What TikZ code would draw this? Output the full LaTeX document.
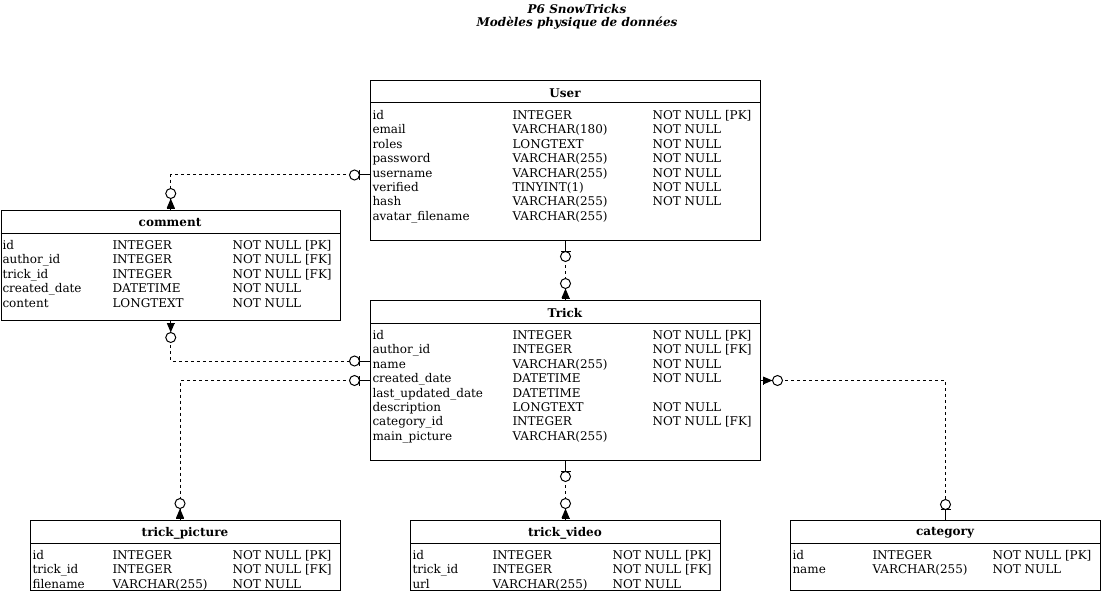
\documentclass[tikz,border=0pt]{standalone}
\usepackage{fontspec}
\setmainfont{DejaVu Serif}
\begin{document}
\begin{tikzpicture}[x=1pt,y=-1pt,line width=1pt,
  tbl/.style={draw,anchor=north west,inner sep=0pt,minimum width=#1},
  hdr/.style={font=\fontsize{12}{14.4}\selectfont\bfseries,anchor=center,inner sep=0pt},
  cell/.style={font=\fontsize{12}{14.4}\selectfont,anchor=base west,inner sep=0pt},
  ttl/.style={font=\fontsize{12}{14.4}\selectfont\bfseries\itshape,anchor=center,inner sep=0pt},
  rel/.style={dash pattern=on 3pt off 3pt},
  % end that reads "zero or one": bar next to a hollow circle
  oneend/.pic={
    \draw[solid] (0,0) -- (10.5,0);
    \draw[solid] (10.5,-5) -- (10.5,5);
    \draw[solid,fill=white] (15.5,0) circle (5);
  },
  % end with a filled arrowhead pointing away from the table, then a circle
  arrowend/.pic={
    \draw[solid] (0,0) -- (2,0);
    \draw[solid] (2,-4) -- (2,4);
    \fill (2,-4) -- (11.5,0) -- (2,4) -- cycle;
    \draw[solid,fill=white] (16.5,0) circle (5);
  },
]
\useasboundingbox (0,0) rectangle (1101,591);

% fields of a table: name, three column x positions, first baseline, rows
\newcommand\erfields[6]{%
  \foreach \fa/\fb/\fc [count=\i from 0] in {#6} {
    \node[cell] (#1-a\i) at (#2, #5+14.4*\i) {\fa};
    \node[cell] (#1-b\i) at (#3, #5+14.4*\i) {\fb};
    \node[cell] (#1-c\i) at (#4, #5+14.4*\i) {\fc};
  }%
}

% title
\node[ttl] (title1) at (577,9) {P6 SnowTricks};
\node[ttl] (title2) at (577,23) {Modèles physique de données};

% User
\node[tbl=390pt,minimum height=160pt] (user) at (370,80) {};
\draw (user.north west |- 0,103) -- (user.north east |- 0,103);
\node[hdr] (user-h) at (565,93) {User};
\erfields{user}{372}{512}{652}{119.5}{id/INTEGER/{NOT NULL [PK]},email/VARCHAR(180)/{NOT NULL},roles/LONGTEXT/{NOT NULL},password/VARCHAR(255)/{NOT NULL},username/VARCHAR(255)/{NOT NULL},verified/TINYINT(1)/{NOT NULL},hash/VARCHAR(255)/{NOT NULL},avatar\_filename/VARCHAR(255)/{}}

% comment
\node[tbl=339.5pt,minimum height=110pt] (comment) at (0.5,210) {};
\draw (comment.north west |- 0,233) -- (comment.north east |- 0,233);
\node[hdr] (comment-h) at (170,223) {comment};
\erfields{comment}{2}{112}{232}{249.5}{id/INTEGER/{NOT NULL [PK]},author\_id/INTEGER/{NOT NULL [FK]},trick\_id/INTEGER/{NOT NULL [FK]},created\_date/DATETIME/{NOT NULL},content/LONGTEXT/{NOT NULL}}

% Trick
\node[tbl=390pt,minimum height=160pt] (trick) at (370,300) {};
\draw (trick.north west |- 0,323) -- (trick.north east |- 0,323);
\node[hdr] (trick-h) at (565,313) {Trick};
\erfields{trick}{372}{512}{652}{339.5}{id/INTEGER/{NOT NULL [PK]},author\_id/INTEGER/{NOT NULL [FK]},name/VARCHAR(255)/{NOT NULL},created\_date/DATETIME/{NOT NULL},last\_updated\_date/DATETIME/{},description/LONGTEXT/{NOT NULL},category\_id/INTEGER/{NOT NULL [FK]},main\_picture/VARCHAR(255)/{}}

% trick_picture
\node[tbl=310pt,minimum height=70pt] (tpic) at (30,520) {};
\draw (tpic.north west |- 0,543) -- (tpic.north east |- 0,543);
\node[hdr] (tpic-h) at (185,533) {trick\_picture};
\erfields{tpic}{32}{112}{232}{559.5}{id/INTEGER/{NOT NULL [PK]},trick\_id/INTEGER/{NOT NULL [FK]},filename/VARCHAR(255)/{NOT NULL}}

% trick_video
\node[tbl=310pt,minimum height=70pt] (tvid) at (410,520) {};
\draw (tvid.north west |- 0,543) -- (tvid.north east |- 0,543);
\node[hdr] (tvid-h) at (565,533) {trick\_video};
\erfields{tvid}{412}{492}{612}{559.5}{id/INTEGER/{NOT NULL [PK]},trick\_id/INTEGER/{NOT NULL [FK]},url/VARCHAR(255)/{NOT NULL}}

% category
\node[tbl=310pt,minimum height=70pt] (cat) at (790,520) {};
\draw (cat.north west |- 0,543) -- (cat.north east |- 0,543);
\node[hdr] (cat-h) at (945,533) {category};
\erfields{cat}{792}{872}{992}{559.5}{id/INTEGER/{NOT NULL [PK]},name/VARCHAR(255)/{NOT NULL}}

% relations
\draw[rel] (user.west |- 0,175) -| (comment.north);
\pic[rotate=180] at (user.west |- 0,175) {oneend};
\pic[rotate=90] at (comment.north) {arrowend};

\draw[rel] (comment.south) |- (trick.west |- 0,361);
\pic[rotate=-90] at (comment.south) {arrowend};
\pic[rotate=180] at (trick.west |- 0,361) {oneend};

\draw[rel] (trick.west) -| (tpic.north -| 180,0);
\pic[rotate=180] at (trick.west) {oneend};
\pic[rotate=90] at (tpic.north -| 180,0) {arrowend};

\draw[rel] (user.south) -- (trick.north);
\pic[rotate=-90] at (user.south) {oneend};
\pic[rotate=90] at (trick.north) {arrowend};

\draw[rel] (trick.south) -- (tvid.north);
\pic[rotate=-90] at (trick.south) {oneend};
\pic[rotate=90] at (tvid.north) {arrowend};

\draw[rel] (trick.east) -| (cat.north);
\pic at (trick.east) {arrowend};
\pic[rotate=90] at (cat.north) {oneend};
\end{tikzpicture}
\end{document}
